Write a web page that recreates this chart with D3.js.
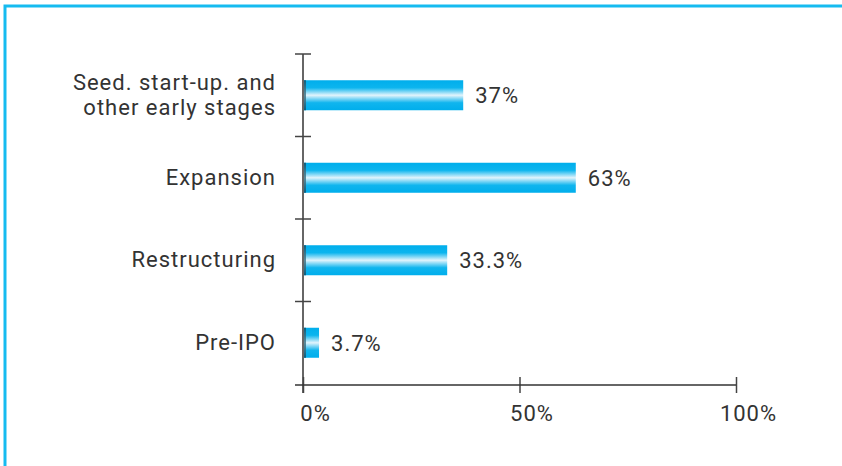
<!DOCTYPE html>
<html>
<head>
<meta charset="utf-8">
<script src="https://cdn.jsdelivr.net/npm/d3@7"></script>
<style>
  html, body { margin: 0; padding: 0; background: #fff; }
  svg { display: block; font-family: Roboto, "DejaVu Sans", sans-serif; }
  svg text { font-weight: 400; letter-spacing: 1px; }
</style>
</head>
<body>
<div id="chart"></div>
<script>
const categories = [
  ['Seed. start-up. and', 'other early stages'],
  ['Expansion'],
  ['Restructuring'],
  ['Pre-IPO']
];
const values = [37, 63, 33.3, 3.7];
const valueLabels = ['37%', '63%', '33.3%', '3.7%'];
const xTicks = [0, 50, 100];

const W = 842, H = 466;
const FS = 22;
const svg = d3.select('#chart').append('svg')
  .attr('width', W).attr('height', H);

// frame, open to the right and bottom
svg.append('path')
  .attr('d', `M5,${H} L5,6 L${W},6`)
  .attr('fill', 'none')
  .attr('stroke', '#16bbf0')
  .attr('stroke-width', 3);

const defs = svg.append('defs');
const grad = defs.append('linearGradient')
  .attr('id', 'barGrad').attr('x1', 0).attr('y1', 0).attr('x2', 0).attr('y2', 1);
[[0, '#00aeec'], [0.25, '#0cb5ee'], [0.5, '#e2f4fc'], [0.75, '#10b5ee'], [1, '#00aeec']]
  .forEach(([o, c]) => grad.append('stop').attr('offset', o).attr('stop-color', c));
const shade = defs.append('linearGradient')
  .attr('id', 'shadeGrad').attr('x1', 0).attr('y1', 0).attr('x2', 0).attr('y2', 1);
[[0, '#0a5f80'], [0.5, '#5a8a9a'], [1, '#0a5f80']]
  .forEach(([o, c]) => shade.append('stop').attr('offset', o).attr('stop-color', c));

const x = d3.scaleLinear().domain([0, 100]).range([303, 736]);
const y = d3.scaleBand().domain(d3.range(categories.length)).range([54, 384]);
const axisY = 385;
const barH = 30;

const bars = svg.append('g');
values.forEach((v, i) => {
  const top = y(i) + (y.bandwidth() - barH) / 2;
  bars.append('rect')
    .attr('x', x(0)).attr('y', top)
    .attr('width', x(v) - x(0)).attr('height', barH)
    .attr('fill', 'url(#barGrad)');
  bars.append('rect')
    .attr('x', x(0)).attr('y', top)
    .attr('width', 3).attr('height', barH)
    .attr('fill', 'url(#shadeGrad)');
  svg.append('text')
    .attr('x', x(v) + 12).attr('y', top + barH / 2)
    .attr('dy', '0.36em')
    .attr('font-size', FS).attr('fill', '#333')
    .text(valueLabels[i]);
});

// y axis line and ticks between categories
svg.append('line')
  .attr('x1', x(0)).attr('x2', x(0)).attr('y1', 54).attr('y2', axisY + 8)
  .attr('stroke', '#666').attr('stroke-width', 2);
const yTickPos = d3.range(categories.length).map(i => y(i));
svg.selectAll('.ytick').data(yTickPos).join('line')
  .attr('x1', x(0) - 8).attr('x2', x(0) + 8)
  .attr('y1', d => d).attr('y2', d => d)
  .attr('stroke', '#444').attr('stroke-width', 1.5);

// category labels
categories.forEach((lines, i) => {
  const cy = y(i) + y.bandwidth() / 2 - 1;
  const t = svg.append('text')
    .attr('text-anchor', 'end')
    .attr('font-size', FS).attr('fill', '#333');
  lines.forEach((ln, j) => {
    t.append('tspan')
      .attr('x', 276)
      .attr('y', cy + (j - (lines.length - 1) / 2) * 25)
      .attr('dy', '0.36em')
      .text(ln);
  });
});

// x axis
const xAxis = svg.append('g')
  .attr('transform', `translate(0,${axisY})`)
  .call(d3.axisBottom(x).tickValues(xTicks).tickSize(8).tickSizeOuter(0)
    .tickFormat(d => d + '%'));
xAxis.select('.domain').remove();
xAxis.append('line')
  .attr('x1', x(0) - 8).attr('x2', x(100))
  .attr('stroke', '#333').attr('stroke-width', 1.5);
xAxis.selectAll('.tick line')
  .attr('y1', -8).attr('y2', 8)
  .attr('stroke', '#444').attr('stroke-width', 1.5);
xAxis.selectAll('.tick text')
  .attr('y', 20).attr('dy', '0.71em').attr('dx', 12)
  .attr('font-size', FS).attr('fill', '#333')
  .attr('font-family', 'Roboto, "DejaVu Sans", sans-serif');
</script>
</body>
</html>
